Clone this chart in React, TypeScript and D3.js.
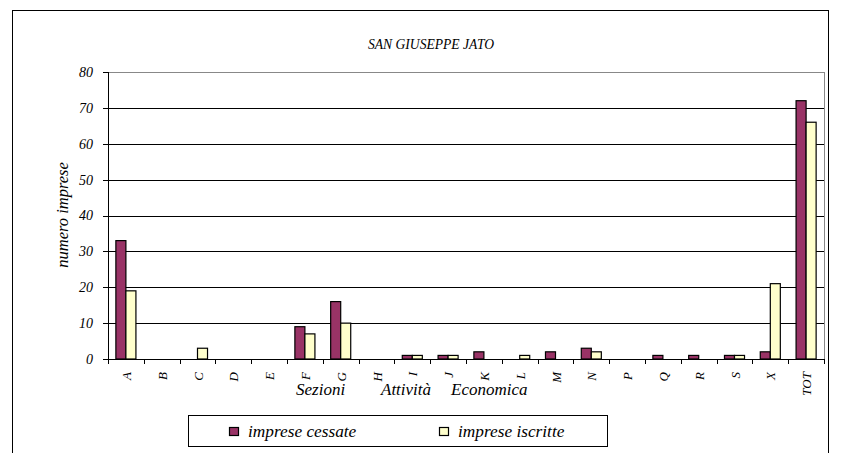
import React from 'react';
import * as d3 from 'd3';

const categories = ['A', 'B', 'C', 'D', 'E', 'F', 'G', 'H', 'I', 'J', 'K', 'L', 'M', 'N', 'P', 'Q', 'R', 'S', 'X', 'TOT'];
const cessate = [33, 0, 0, 0, 0, 9, 16, 0, 1, 1, 2, 0, 2, 3, 0, 1, 1, 1, 2, 72];
const iscritte = [19, 0, 3, 0, 0, 7, 10, 0, 1, 1, 0, 1, 0, 2, 0, 0, 0, 1, 21, 66];
const seriesNames = ['imprese cessate', 'imprese iscritte'];
const seriesColors = ['#993366', '#FFFFCC'];
const yTicks = [0, 10, 20, 30, 40, 50, 60, 70, 80];
const xTitleWords = ['Sezioni', 'Attività', 'Economica'];

const W = 841;
const H = 453;
const FONT = 'Liberation Serif';

export default function App() {
  const left = 108, right = 824, top = 72, bottom = 359;

  const x = d3.scaleBand<string>().domain(categories).range([left, right])
    .paddingInner(0.44).paddingOuter(0.22);
  const xs = d3.scaleBand<number>().domain([0, 1]).range([0, x.bandwidth()]);
  const y = d3.scaleLinear().domain([0, 80]).range([bottom, top]);
  const step = x.step();
  const bounds = d3.range(categories.length + 1).map(i => Math.round(left + i * step) + 0.5);
  const py = (v: number) => Math.round(y(v)) + 0.5;

  const series = [cessate, iscritte];
  const titleX = [296, 381, 451];
  const legX = [229, 439];

  return (
    <svg width={W} height={H} fontFamily={FONT} fontStyle="italic"
      style={{ position: 'absolute', left: 0, top: 0, background: '#fff' }}>
      {/* outer frame */}
      <rect x={12.5} y={10.5} width={816} height={460} fill="none" stroke="#000" />

      <text x={431} y={49} textAnchor="middle" fontSize={13.6}>SAN GIUSEPPE JATO</text>

      {/* gridlines */}
      {yTicks.filter(t => t > 0).map(t => (
        <line key={t} x1={left} x2={right} y1={py(t)} y2={py(t)}
          stroke={t === 80 ? '#888' : '#000'} />
      ))}
      <line x1={right + 0.5} x2={right + 0.5} y1={top} y2={bottom} stroke="#888" />

      {/* bars */}
      {categories.map((c, i) => (
        <g key={c} transform={`translate(${x(c)},0)`}>
          {series.map((vals, si) => vals[i] > 0 && (
            <rect key={si} x={xs(si)} y={y(vals[i])} width={xs.bandwidth()}
              height={y(0) - y(vals[i])} fill={seriesColors[si]} stroke="#000" strokeWidth={1.2} />
          ))}
        </g>
      ))}

      {/* y axis */}
      <line x1={left + 0.5} x2={left + 0.5} y1={top} y2={bottom} stroke="#000" />
      {yTicks.map(t => (
        <g key={t}>
          <line x1={left - 5} x2={left} y1={py(t)} y2={py(t)} stroke="#000" />
          <text x={93} y={y(t)} dy="0.35em" textAnchor="end" fontSize={14}>{t}</text>
        </g>
      ))}
      <text transform="translate(68,215) rotate(-90)" textAnchor="middle" fontSize={16.5}>numero imprese</text>

      {/* x axis */}
      <line x1={left} x2={right + 1} y1={bottom + 0.5} y2={bottom + 0.5} stroke="#000" strokeWidth={1.2} />
      {bounds.map((b, i) => (
        <line key={i} x1={b} x2={b} y1={bottom} y2={bottom + 5} stroke="#000" />
      ))}
      {categories.map(c => (
        <text key={c} transform={`translate(${x(c)! + x.bandwidth() / 2 + 5},372) rotate(-90)`}
          textAnchor="end" fontSize={13}>{c}</text>
      ))}
      {xTitleWords.map((w, i) => (
        <text key={w} x={titleX[i]} y={395} fontSize={17}>{w}</text>
      ))}

      {/* legend */}
      <rect x={188.5} y={415.5} width={419} height={31} fill="#fff" stroke="#000" />
      {seriesNames.map((name, i) => (
        <g key={name}>
          <rect x={legX[i] + 0.5} y={427.5} width={9} height={8} fill={seriesColors[i]}
            stroke="#000" strokeWidth={1.2} />
          <text x={legX[i] + 19} y={437} fontSize={17.3}>{name}</text>
        </g>
      ))}
    </svg>
  );
}
